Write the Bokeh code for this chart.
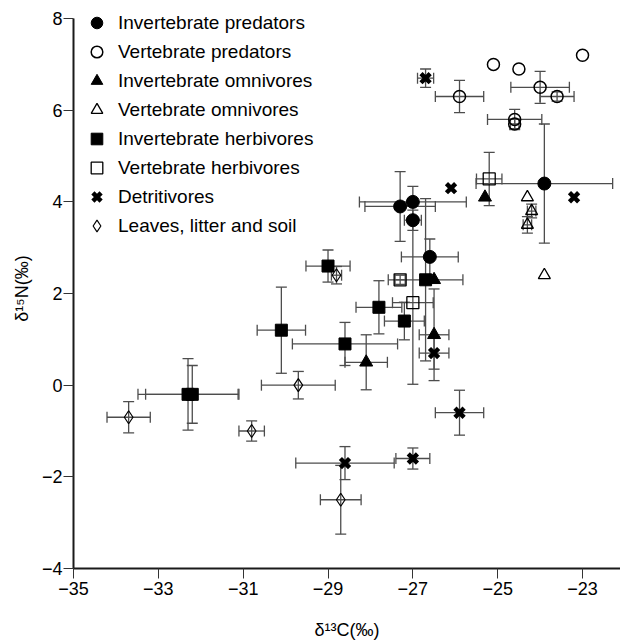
from bokeh.plotting import figure
from bokeh.models import (Range1d, ColumnDataSource, Whisker, TeeHead, Legend,
                          LegendItem, FixedTicker)
from bokeh.embed import file_html
from bokeh.resources import INLINE

# ---------------- data ----------------
x_ticks = [-35, -33, -31, -29, -27, -25, -23]
y_ticks = [-4, -2, 0, 2, 4, 6, 8]

# Invertebrate predators
ip_x = [-27.3, -27.0, -27.0, -26.6, -23.9]
ip_y = [3.9, 4.0, 3.6, 2.8, 4.4]
ip_xerr = [0.83, 1.26, 0.2, 0.67, 1.61]
ip_yerr = [0.76, 0.34, 0.22, 0.39, 1.30]

# Vertebrate predators
vp_x = [-25.1, -24.5, -23.0, -24.0, -23.6, -25.9, -24.6, -24.6]
vp_y = [7.0, 6.9, 7.2, 6.5, 6.3, 6.3, 5.8, 5.7]
vp_xerr = [0, 0, 0, 0.69, 0.4, 0.57, 0.64, 0.1]
vp_yerr = [0, 0, 0, 0.35, 0.1, 0.35, 0.22, 0.1]

# Invertebrate omnivores
io_x = [-25.3, -26.5, -26.5, -28.1]
io_y = [4.1, 2.3, 1.1, 0.5]
io_xerr = [0, 0, 0.35, 0.5]
io_yerr = [0, 0, 1.0, 0.6]

# Vertebrate omnivores
vo_x = [-24.3, -24.2, -24.3, -23.9]
vo_y = [4.1, 3.8, 3.5, 2.4]
vo_xerr = [0, 0.1, 0.1, 0]
vo_yerr = [0, 0.15, 0.18, 0]

# Invertebrate herbivores
ih_x = [-29.0, -26.7, -27.8, -27.2, -30.1, -28.6, -32.3, -32.2]
ih_y = [2.6, 2.3, 1.7, 1.4, 1.2, 0.9, -0.2, -0.2]
ih_xerr = [0.52, 0.88, 0.54, 0.47, 0.57, 1.24, 1.18, 1.1]
ih_yerr = [0.35, 1.77, 0.58, 0.41, 0.94, 0.47, 0.78, 0.63]

# Vertebrate herbivores
vh_x = [-25.2, -27.3, -27.0]
vh_y = [4.5, 2.3, 1.8]
vh_xerr = [0.3, 0.12, 0.48]
vh_yerr = [0.58, 0.1, 1.78]

# Detritivores
de_x = [-26.7, -26.1, -23.2, -26.5, -25.9, -28.6, -27.0]
de_y = [6.7, 4.3, 4.1, 0.7, -0.6, -1.7, -1.6]
de_xerr = [0.19, 0, 0, 0.35, 0.57, 1.16, 0.4]
de_yerr = [0.2, 0, 0, 0.35, 0.49, 0.36, 0.23]

# Leaves, litter and soil
ls_x = [-28.8, -29.7, -33.7, -30.8, -28.7]
ls_y = [2.4, 0.0, -0.7, -1.0, -2.5]
ls_xerr = [0.12, 0.87, 0.51, 0.3, 0.48]
ls_yerr = [0.19, 0.3, 0.34, 0.22, 0.75]

labels = ["Invertebrate predators", "Vertebrate predators",
          "Invertebrate omnivores", "Vertebrate omnivores",
          "Invertebrate herbivores", "Vertebrate herbivores",
          "Detritivores", "Leaves, litter and soil"]

# ---------------- figure ----------------
FONT = "Liberation Sans"
p = figure(width=620, height=644,
           x_range=Range1d(-35, -22.105), y_range=Range1d(-4, 8.22),
           output_backend="svg", toolbar_location=None,
           min_border_left=73, min_border_right=0,
           min_border_top=8, min_border_bottom=76)
p.outline_line_color = None
p.grid.visible = False
p.background_fill_color = "white"
p.border_fill_color = "white"

p.xaxis.ticker = FixedTicker(ticks=x_ticks)
p.yaxis.ticker = FixedTicker(ticks=y_ticks)
p.yaxis.bounds = (-4, 8)
p.xaxis.axis_label = "δ¹³C(‰)"
p.yaxis.axis_label = "δ¹⁵N(‰)"
for ax in (p.xaxis[0], p.yaxis[0]):
    ax.axis_line_width = 2
    ax.axis_line_color = "#1a1a1a"
    ax.major_tick_line_color = "#333333"
    ax.major_tick_line_width = 1
    ax.major_tick_out = 10
    ax.major_tick_in = 0
    ax.minor_tick_line_color = None
    ax.major_label_text_font = FONT
    ax.major_label_text_font_size = "18px"
    ax.major_label_text_color = "black"
    ax.axis_label_text_font = FONT
    ax.axis_label_text_font_style = "normal"
    ax.axis_label_text_font_size = "18px"
    ax.axis_label_text_color = "black"
p.xaxis.major_label_standoff = 3
p.yaxis.major_label_standoff = 1
p.xaxis.axis_label_standoff = 22
p.yaxis.axis_label_standoff = 7

ERR_COLOR = "#4d4d4d"


def add_errors(xs, ys, xe, ye):
    ix = [i for i in range(len(xs)) if xe[i] > 0]
    iy = [i for i in range(len(xs)) if ye[i] > 0]
    if ix:
        src = ColumnDataSource(dict(
            base=[ys[i] for i in ix],
            lower=[xs[i] - xe[i] for i in ix],
            upper=[xs[i] + xe[i] for i in ix]))
        p.add_layout(Whisker(
            source=src, base="base", lower="lower", upper="upper",
            dimension="width", line_color=ERR_COLOR, line_width=1.3,
            upper_head=TeeHead(size=11, line_color=ERR_COLOR, line_width=1.3),
            lower_head=TeeHead(size=11, line_color=ERR_COLOR, line_width=1.3),
            level="underlay"))
    if iy:
        src = ColumnDataSource(dict(
            base=[xs[i] for i in iy],
            lower=[ys[i] - ye[i] for i in iy],
            upper=[ys[i] + ye[i] for i in iy]))
        p.add_layout(Whisker(
            source=src, base="base", lower="lower", upper="upper",
            dimension="height", line_color=ERR_COLOR, line_width=1.3,
            upper_head=TeeHead(size=11, line_color=ERR_COLOR, line_width=1.3),
            lower_head=TeeHead(size=11, line_color=ERR_COLOR, line_width=1.3),
            level="underlay"))


series = [
    (ip_x, ip_y, ip_xerr, ip_yerr, dict(marker="circle", size=13, fill_color="black", line_color="black")),
    (vp_x, vp_y, vp_xerr, vp_yerr, dict(marker="circle", size=12, fill_color=None, line_color="black", line_width=1.5)),
    (io_x, io_y, io_xerr, io_yerr, dict(marker="triangle", size=13, fill_color="black", line_color="black")),
    (vo_x, vo_y, vo_xerr, vo_yerr, dict(marker="triangle", size=12, fill_color=None, line_color="black", line_width=1.3)),
    (ih_x, ih_y, ih_xerr, ih_yerr, dict(marker="square", size=12, fill_color="black", line_color="black")),
    (vh_x, vh_y, vh_xerr, vh_yerr, dict(marker="square", size=12, fill_color=None, line_color="black", line_width=1.3)),
    (de_x, de_y, de_xerr, de_yerr, dict(marker="x", size=13, line_color="black", line_width=4.5)),
    (ls_x, ls_y, ls_xerr, ls_yerr, dict(marker="diamond", size=13, fill_color=None, line_color="black", line_width=1.2)),
]

items = []
for (xs, ys, xe, ye, style), lab in zip(series, labels):
    add_errors(xs, ys, xe, ye)
    r = p.scatter(x=xs, y=ys, **style)
    items.append(LegendItem(label=lab, renderers=[r]))

legend = Legend(items=items, location=(8, 328), orientation="vertical",
                padding=0, margin=0, spacing=0,
                glyph_width=31, glyph_height=29, label_height=29,
                label_standoff=6, label_text_font=FONT,
                label_text_font_size="19px", label_text_color="black",
                label_text_baseline="middle",
                border_line_color=None, background_fill_alpha=0)
p.add_layout(legend, "center")

open("out.html", "w").write(file_html(p, INLINE))
